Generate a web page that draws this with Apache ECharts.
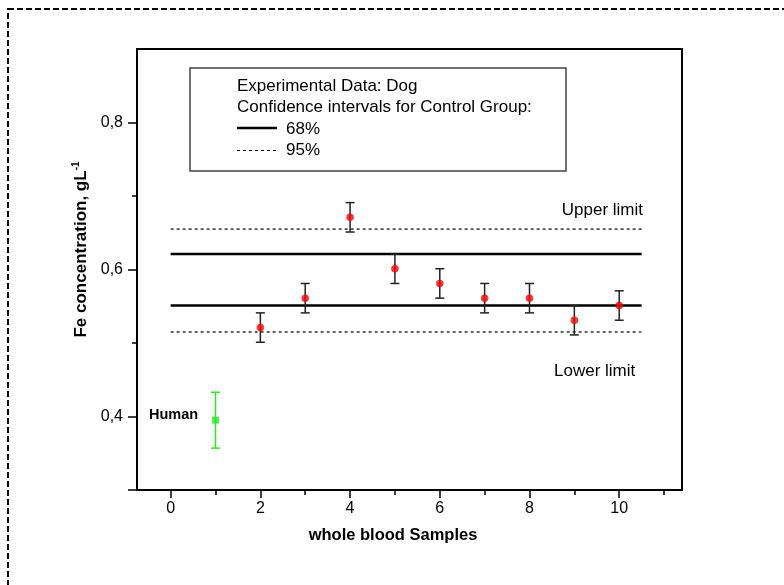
<!DOCTYPE html>
<html>
<head>
<meta charset="utf-8">
<script src="https://cdn.jsdelivr.net/npm/echarts@6/dist/echarts.min.js"></script>
<style>
  html, body { margin: 0; padding: 0; background: #fff; }
  #chart { width: 784px; height: 585px; }
</style>
</head>
<body>
<div id="chart"></div>
<script>
// dog samples (red points) with error bars
const sampleX = [2, 3, 4, 5, 6, 7, 8, 9, 10];
const dogFe = [0.521, 0.561, 0.671, 0.601, 0.581, 0.561, 0.561, 0.531, 0.551];
const dogErr = [0.02, 0.02, 0.02, 0.02, 0.02, 0.02, 0.02, 0.02, 0.02];

// human reference point (green)
const humanX = [1];
const humanFe = [0.395];
const humanErr = [0.038];

// control group confidence limits
const ci68 = [0.551, 0.621];
const ci95 = [0.515, 0.655];
const limitSpan = [0, 10.5];

const xMajorTicks = [0, 2, 4, 6, 8, 10];
const xMinorTicks = [1, 3, 5, 7, 9, 11];
const yMajorTicks = [0.3, 0.4, 0.6, 0.8];
const yMinorTicks = [0.5, 0.7];

const chart = echarts.init(document.getElementById('chart'));

const font = 'Liberation Sans, Arial, sans-serif';

function errorBarSeries(xs, ys, errs, color) {
    return {
        type: 'custom',
        silent: true,
        z: 3,
        data: xs.map((x, i) => [x, ys[i] - errs[i], ys[i] + errs[i]]),
        renderItem: function (params, api) {
            const lo = api.coord([api.value(0), api.value(1)]);
            const hi = api.coord([api.value(0), api.value(2)]);
            const cap = 4.5;
            const style = { stroke: color, lineWidth: 1.5, fill: null };
            return {
                type: 'group',
                children: [
                    { type: 'line', shape: { x1: lo[0], y1: lo[1], x2: hi[0], y2: hi[1] }, style: style },
                    { type: 'line', shape: { x1: lo[0] - cap, y1: lo[1], x2: lo[0] + cap, y2: lo[1] }, style: style },
                    { type: 'line', shape: { x1: hi[0] - cap, y1: hi[1], x2: hi[0] + cap, y2: hi[1] }, style: style }
                ]
            };
        }
    };
}

function limitLine(val, solid) {
    return {
        type: 'line',
        silent: true,
        symbol: 'none',
        z: 2,
        data: [[limitSpan[0], val], [limitSpan[1], val]],
        lineStyle: solid
            ? { color: '#000', width: 2.5 }
            : { color: '#000', width: 1.2, type: [3, 3] }
    };
}

const axisCommon = {
    type: 'value',
    splitLine: { show: false },
    axisLine: { show: true, onZero: false, lineStyle: { color: '#000', width: 2 } }
};

const option = {
    animation: false,
    backgroundColor: '#fff',
    grid: {
        left: 137, top: 49, right: 102, bottom: 95,
        show: true, borderColor: '#000', borderWidth: 2, backgroundColor: 'transparent'
    },
    xAxis: [
        Object.assign({}, axisCommon, {
            position: 'bottom',
            min: -0.75, max: 11.4,
            name: 'whole blood Samples',
            nameLocation: 'middle',
            nameGap: 37,
            nameTextStyle: { fontFamily: font, fontSize: 16.5, fontWeight: 'bold', color: '#000', padding: [0, 33, 0, 0] },
            axisTick: { show: true, length: 8, customValues: xMajorTicks, lineStyle: { color: '#000', width: 1.5 } },
            axisLabel: { customValues: xMajorTicks, margin: 11, fontFamily: font, fontSize: 16, color: '#000' }
        }),
        Object.assign({}, axisCommon, {
            position: 'bottom',
            offset: 0,
            min: -0.75, max: 11.4,
            axisTick: { show: true, length: 5, customValues: xMinorTicks, lineStyle: { color: '#000', width: 1.5 } },
            axisLabel: { show: false }
        })
    ],
    yAxis: [
        Object.assign({}, axisCommon, {
            position: 'left',
            min: 0.3, max: 0.9,
            name: '{a|Fe concentration, gL}{s|-1}',
            nameLocation: 'middle',
            nameGap: 40,
            nameRotate: 90,
            nameTextStyle: {
                fontFamily: font, fontSize: 17, fontWeight: 'bold', color: '#000',
                padding: [0, 0, 0, 40],
                rich: {
                    a: { fontFamily: font, fontSize: 17, fontWeight: 'bold', color: '#000' },
                    s: { fontFamily: font, fontSize: 10, fontWeight: 'bold', color: '#000', padding: [0, 0, 10, 0] }
                }
            },
            axisTick: { show: true, length: 9, customValues: yMajorTicks, lineStyle: { color: '#000', width: 1.5 } },
            axisLabel: {
                customValues: [0.4, 0.6, 0.8], margin: 14, fontFamily: font, fontSize: 16, color: '#000',
                formatter: v => v.toFixed(1).replace('.', ',')
            }
        }),
        Object.assign({}, axisCommon, {
            position: 'left',
            offset: 0,
            min: 0.3, max: 0.9,
            axisTick: { show: true, length: 5, customValues: yMinorTicks, lineStyle: { color: '#000', width: 1.5 } },
            axisLabel: { show: false }
        })
    ],
    series: [
        limitLine(ci68[0], true),
        limitLine(ci68[1], true),
        limitLine(ci95[0], false),
        limitLine(ci95[1], false),
        errorBarSeries(sampleX, dogFe, dogErr, '#222'),
        errorBarSeries(humanX, humanFe, humanErr, '#22ee22'),
        {
            type: 'scatter',
            z: 4,
            symbol: 'circle',
            symbolSize: 7.5,
            itemStyle: { color: '#ff0000' },
            data: sampleX.map((x, i) => [x, dogFe[i]])
        },
        {
            type: 'scatter',
            z: 4,
            symbol: 'rect',
            symbolSize: 7,
            itemStyle: { color: '#22ee22' },
            data: humanX.map((x, i) => [x, humanFe[i]])
        }
    ],
    graphic: [
        // dashed page frame
        {
            type: 'rect', z: 0, silent: true,
            shape: { x: 8, y: 9, width: 800, height: 600 },
            style: { fill: null, stroke: '#000', lineWidth: 2, lineDash: [6, 3] }
        },
        // legend box
        {
            type: 'rect', z: 10,
            shape: { x: 190, y: 68, width: 376, height: 103 },
            style: { fill: '#fff', stroke: '#444', lineWidth: 1.5 }
        },
        {
            type: 'text', z: 11, x: 237, y: 86,
            style: { text: 'Experimental Data: Dog', fontFamily: font, fontSize: 17, fill: '#000', verticalAlign: 'middle' }
        },
        {
            type: 'text', z: 11, x: 237, y: 107,
            style: { text: 'Confidence intervals for Control Group:', fontFamily: font, fontSize: 17, fill: '#000', verticalAlign: 'middle' }
        },
        {
            type: 'line', z: 11,
            shape: { x1: 237, y1: 128, x2: 277, y2: 128 },
            style: { stroke: '#000', lineWidth: 2.5 }
        },
        {
            type: 'text', z: 11, x: 286, y: 129,
            style: { text: '68%', fontFamily: font, fontSize: 17, fill: '#000', verticalAlign: 'middle' }
        },
        {
            type: 'line', z: 11,
            shape: { x1: 237, y1: 150.5, x2: 277, y2: 150.5 },
            style: { stroke: '#000', lineWidth: 1, lineDash: [3, 3] }
        },
        {
            type: 'text', z: 11, x: 286, y: 150,
            style: { text: '95%', fontFamily: font, fontSize: 17, fill: '#000', verticalAlign: 'middle' }
        },
        // annotations
        {
            type: 'text', z: 11, x: 643, y: 210,
            style: { text: 'Upper limit', fontFamily: font, fontSize: 17, fill: '#000', align: 'right', verticalAlign: 'middle' }
        },
        {
            type: 'text', z: 11, x: 554, y: 371,
            style: { text: 'Lower limit', fontFamily: font, fontSize: 17, fill: '#000', verticalAlign: 'middle' }
        },
        {
            type: 'text', z: 11, x: 149, y: 415,
            style: { text: 'Human', fontFamily: font, fontSize: 14.5, fontWeight: 'bold', fill: '#000', verticalAlign: 'middle' }
        }
    ]
};

chart.setOption(option);
</script>
</body>
</html>
